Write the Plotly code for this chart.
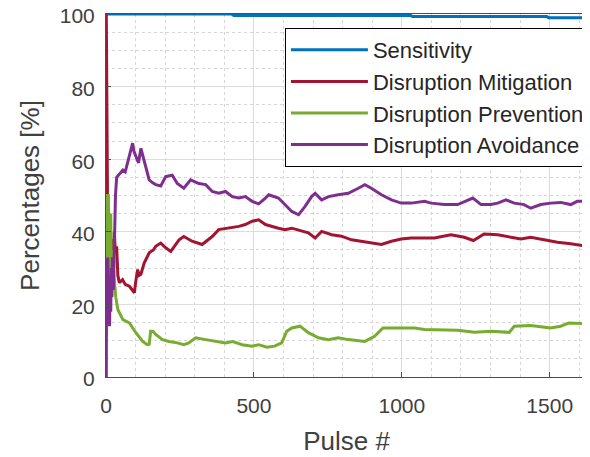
import plotly.graph_objects as go

# ---- data ----
sens_x = [0, 425, 432, 1030, 1036, 1490, 1496, 1627]
sens_y = [100, 100, 99.6, 99.6, 99.3, 99.3, 99.0, 99.0]

mit_x = [1, 3, 5, 8, 12, 16, 20, 24, 28, 32, 36, 40, 45, 56, 65, 79, 90, 96, 100, 107, 112, 118,
         129, 140, 146, 160, 168, 185, 202, 219, 235, 247, 263, 291, 325, 359, 381, 415, 449, 471,
         494, 516, 539, 583, 605, 628, 662, 684, 707, 729, 763, 796, 830, 864, 897, 931, 965, 998,
         1032, 1077, 1110, 1166, 1211, 1242, 1278, 1324, 1369, 1402, 1436, 1481, 1526, 1571, 1604, 1627]
mit_y = [100, 67, 50, 40, 45, 33, 38, 30, 40, 34, 36, 28, 26, 26.8, 25.5, 25, 24, 23.2, 26, 29.6, 28, 28.3,
         31.4, 33, 34.2, 35, 36, 36.9, 35.6, 34.6, 36.5, 37.8, 38.7, 37.4, 36.5, 38.7, 40.6, 41, 41.5, 42,
         42.9, 43.3, 42, 41, 40.6, 41, 40.1, 39.7, 38.3, 40.1, 39.2, 38.8, 37.8, 37.4, 36.9, 36.5, 37.4, 38,
         38.3, 38.3, 38.3, 39.2, 38.5, 37.6, 39.4, 39.2, 38.5, 38, 38.5, 37.8, 37.1, 36.7, 36.2, 36]

prev_x = [3, 5, 8, 10, 12, 14, 16, 18, 20, 22, 25, 29, 33, 40, 57, 79, 101, 124, 140, 146, 151, 160,
          168, 191, 213, 241, 263, 280, 303, 337, 370, 404, 427, 460, 494, 516, 544, 570, 594, 611,
          628, 656, 684, 718, 752, 785, 819, 875, 908, 936, 987, 1043, 1077, 1121, 1189, 1245, 1301,
          1363, 1380, 1436, 1503, 1537, 1565, 1627]
prev_y = [33, 50, 50, 33, 40, 25, 45, 30, 35, 25, 30, 26.8, 22, 18.6, 15.8, 14.9, 12.2, 9.8, 8.9, 9, 12.6, 12.5,
          11.7, 10.3, 9.8, 9.4, 8.9, 9.4, 10.8, 10.3, 9.8, 9.4, 9.8, 8.9, 8.5, 8.9, 8.2, 8.5, 9.4, 12.6,
          13.5, 14, 12.2, 10.8, 10.3, 10.8, 10.3, 9.8, 11.2, 13.5, 13.5, 13.5, 13.1, 13.1, 12.9, 12.3, 12.6,
          12.3, 14, 14.2, 13.5, 14, 14.9, 14.7]

avoid_x = [1, 2, 4, 6, 8, 10, 12, 14, 16, 18, 20, 22, 25, 28, 32, 36, 45, 57, 65, 79, 85, 90, 95, 101,
           110, 118, 124, 129, 140, 146, 158, 168, 185, 202, 224, 241, 263, 286, 314, 337, 359, 381,
           404, 427, 449, 471, 494, 516, 539, 550, 583, 605, 628, 651, 673, 695, 707, 729, 752, 785,
           819, 853, 875, 897, 931, 965, 998, 1032, 1077, 1099, 1144, 1189, 1217, 1240, 1268, 1301,
           1324, 1352, 1380, 1413, 1436, 1470, 1503, 1537, 1571, 1593, 1627]
avoid_y = [0, 33, 14, 33, 20, 28, 14, 25, 18, 30, 22, 33, 24, 40, 50, 55, 56, 57, 56.5, 60.7, 63, 64.4, 62, 60.7,
           59, 63, 61, 59.5, 56, 54.3, 53.5, 53, 52.6, 55.2, 55.6, 53.3, 52, 54.3, 53.3, 53, 51.1, 50.6,
           51.1, 49.7, 49.3, 49.7, 48.4, 47.7, 49.3, 50.2, 49.3, 47.5, 45.6, 44.7, 47, 49.7, 50.6, 48.8, 49.7, 50.2,
           50.6, 52, 53, 52, 50.2, 48.8, 47.9, 47.9, 48.4, 47.9, 47.5, 47.5, 48.4, 49.3, 47.5, 47.5,
           47.9, 48.8, 47.9, 47.5, 46.5, 47.5, 47.9, 48.1, 47.5, 48.4, 48.4]

x_ticks = [0, 500, 1000, 1500]
y_ticks = [0, 20, 40, 60, 80, 100]

series = [
    ("Sensitivity", sens_x, sens_y, "#0072BD"),
    ("Disruption Mitigation", mit_x, mit_y, "#A2142F"),
    ("Disruption Prevention", prev_x, prev_y, "#77AC30"),
    ("Disruption Avoidance", avoid_x, avoid_y, "#7E2F8E"),
]

FONT = "Liberation Sans, Arial, Helvetica, sans-serif"

fig = go.Figure()
for name, xs, ys, col in series:
    fig.add_trace(go.Scatter(x=xs, y=ys, mode="lines", name=name,
                             line=dict(color=col, width=3), cliponaxis=False))

axis_common = dict(
    showline=True, linecolor="#4d4d4d", linewidth=1, mirror=True,
    ticks="inside", ticklen=5, tickcolor="#4d4d4d",
    showgrid=True, gridcolor="#dcdcdc", gridwidth=1, zeroline=False,
    tickfont=dict(family=FONT, size=21, color="#404040"),
    automargin=False, ticklabeloverflow="allow",
)

fig.update_xaxes(range=[0, 1626], tickvals=x_ticks,
                 minor=dict(dtick=100, tick0=0, showgrid=True, gridcolor="#d6d6d6", griddash="dot", ticks=""),
                 title=dict(text="Pulse #", font=dict(family=FONT, size=26, color="#404040"), standoff=15),
                 ticklabelstandoff=10, **axis_common)
fig.update_yaxes(range=[0, 100], tickvals=y_ticks,
                 minor=dict(dtick=5, tick0=0, showgrid=True, gridcolor="#d6d6d6", griddash="dot", ticks=""),
                 title=dict(text="Percentages [%]", font=dict(family=FONT, size=26, color="#404040"), standoff=12),
                 ticklabelstandoff=6, ticklabelshift=2, **axis_common)

fig.update_layout(
    width=582, height=449,
    margin=dict(l=98, r=0, t=6, b=80),
    paper_bgcolor="white", plot_bgcolor="white",
    legend=dict(x=0.372, y=0.9615, xanchor="left", yanchor="top",
                bgcolor="white", bordercolor="black", borderwidth=1,
                font=dict(family=FONT, size=22, color="#262626"),
                itemwidth=77),
    showlegend=True,
)

fig.write_html("out.html")
